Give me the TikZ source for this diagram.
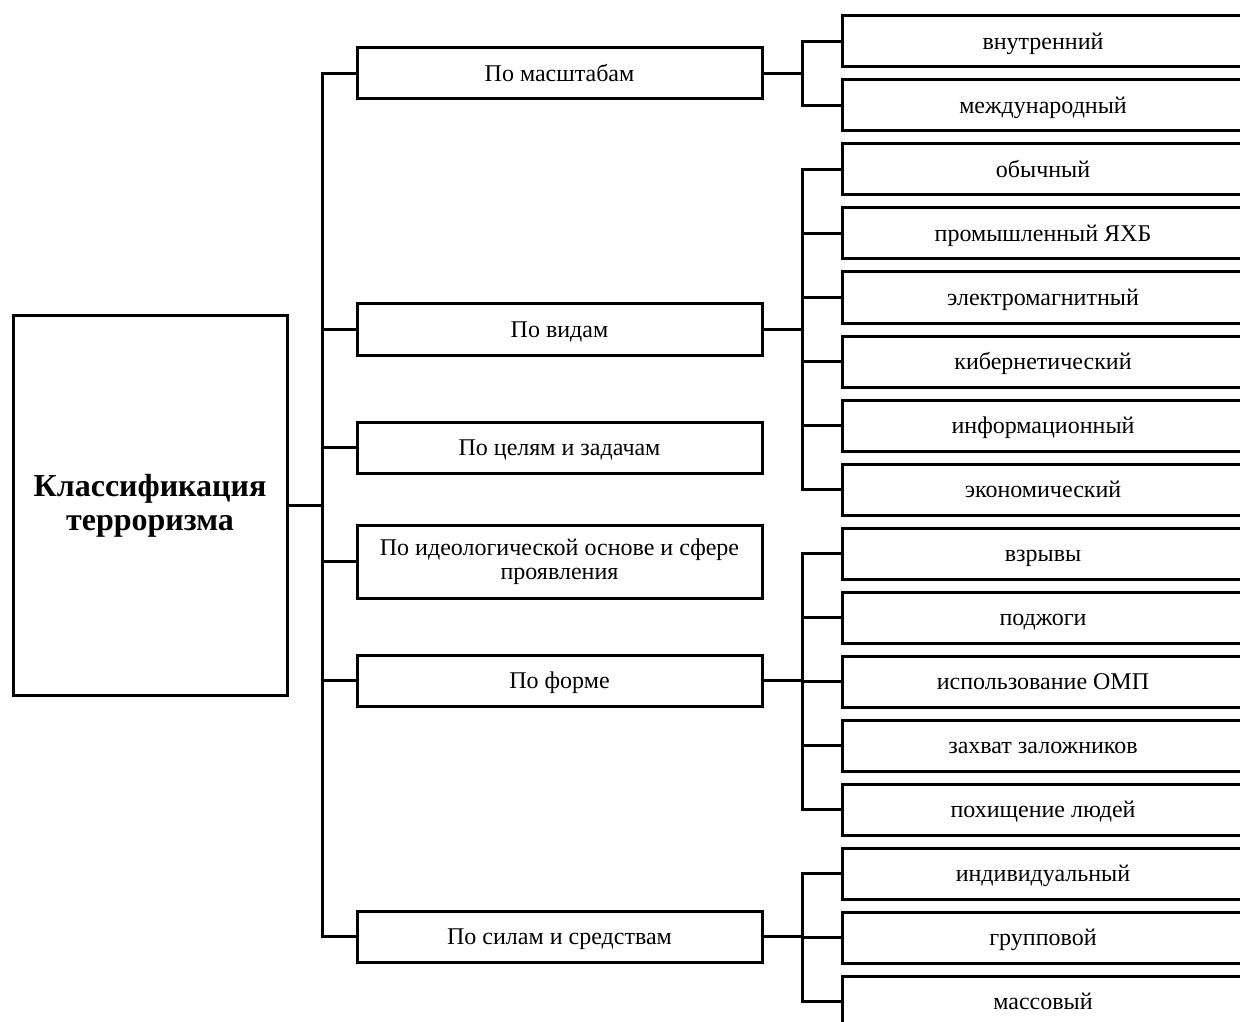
\documentclass[tikz,border=0pt]{standalone}
\usepackage{fontspec}
\setmainfont{Liberation Serif}

\begin{document}
\begin{tikzpicture}[x=0.5pt,y=-0.5pt,line width=1.5pt,
rootblock/.style={draw,rectangle,inner sep=4pt,minimum width=137pt,minimum height=189.5pt,line width=1.5pt,align=center,font=\fontsize{16}{17}\selectfont\bfseries},
groupblock/.style={draw,rectangle,inner sep=2pt,minimum width=202.5pt,minimum height=25.5pt,line width=1.5pt,align=center,font=\fontsize{12}{12}\selectfont,text height=9.5pt,text depth=1.5pt},
leafblock/.style={draw,rectangle,inner sep=2pt,minimum width=201pt,minimum height=25.5pt,line width=1.5pt,font=\fontsize{12}{12}\selectfont,text height=9.5pt,text depth=1.5pt}]

\useasboundingbox (0,0) rectangle (1240,1021);

\draw (150,505.5) node[rootblock] (R) {Классификация\\терроризма};

\draw (559.5,73.5) node[groupblock] (G1) {По масштабам};
\draw (559.5,329.5) node[groupblock] (G2) {По видам};
\draw (559.5,447.5) node[groupblock] (G3) {По целям и задачам};
\draw (559.5,561.5) node[groupblock,minimum height=36.5pt,text height=,text depth=] (G4) {По идеологической основе и сфере\\проявления};
\draw (559.5,680.5) node[groupblock] (G5) {По форме};
\draw (559.5,936.5) node[groupblock] (G6) {По силам и средствам};

\draw (1043,41.5) node[leafblock] (L1) {внутренний};
\draw (1043,105.5) node[leafblock] (L2) {международный};
\draw (1043,169.5) node[leafblock] (L3) {обычный};
\draw (1043,233.5) node[leafblock] (L4) {промышленный ЯХБ};
\draw (1043,297.5) node[leafblock] (L5) {электромагнитный};
\draw (1043,361.5) node[leafblock] (L6) {кибернетический};
\draw (1043,425.5) node[leafblock] (L7) {информационный};
\draw (1043,489.5) node[leafblock] (L8) {экономический};
\draw (1043,553.5) node[leafblock] (L9) {взрывы};
\draw (1043,617.5) node[leafblock] (L10) {поджоги};
\draw (1043,681.5) node[leafblock] (L11) {использование ОМП};
\draw (1043,745.5) node[leafblock] (L12) {захват заложников};
\draw (1043,809.5) node[leafblock] (L13) {похищение людей};
\draw (1043,873.5) node[leafblock] (L14) {индивидуальный};
\draw (1043,937.5) node[leafblock] (L15) {групповой};
\draw (1043,1001.5) node[leafblock] (L16) {массовый};

% root to groups
\draw (R.east) -- ++(34,0) |- (G1.west);
\draw (R.east) -- ++(34,0) |- (G2.west);
\draw (R.east) -- ++(34,0) |- (G3.west);
\draw (R.east) -- ++(34,0) |- (G4.west);
\draw (R.east) -- ++(34,0) |- (G5.west);
\draw (R.east) -- ++(34,0) |- (G6.west);

% groups to leaves
\draw (G1.east) -- ++(39,0) |- (L1.west);
\draw (G1.east) -- ++(39,0) |- (L2.west);
\draw (G2.east) -- ++(39,0) |- (L3.west);
\draw (G2.east) -- ++(39,0) |- (L4.west);
\draw (G2.east) -- ++(39,0) |- (L5.west);
\draw (G2.east) -- ++(39,0) |- (L6.west);
\draw (G2.east) -- ++(39,0) |- (L7.west);
\draw (G2.east) -- ++(39,0) |- (L8.west);
\draw (G5.east) -- ++(39,0) |- (L9.west);
\draw (G5.east) -- ++(39,0) |- (L10.west);
\draw (G5.east) -- ++(39,0) |- (L11.west);
\draw (G5.east) -- ++(39,0) |- (L12.west);
\draw (G5.east) -- ++(39,0) |- (L13.west);
\draw (G6.east) -- ++(39,0) |- (L14.west);
\draw (G6.east) -- ++(39,0) |- (L15.west);
\draw (G6.east) -- ++(39,0) |- (L16.west);

\end{tikzpicture}
\end{document}
